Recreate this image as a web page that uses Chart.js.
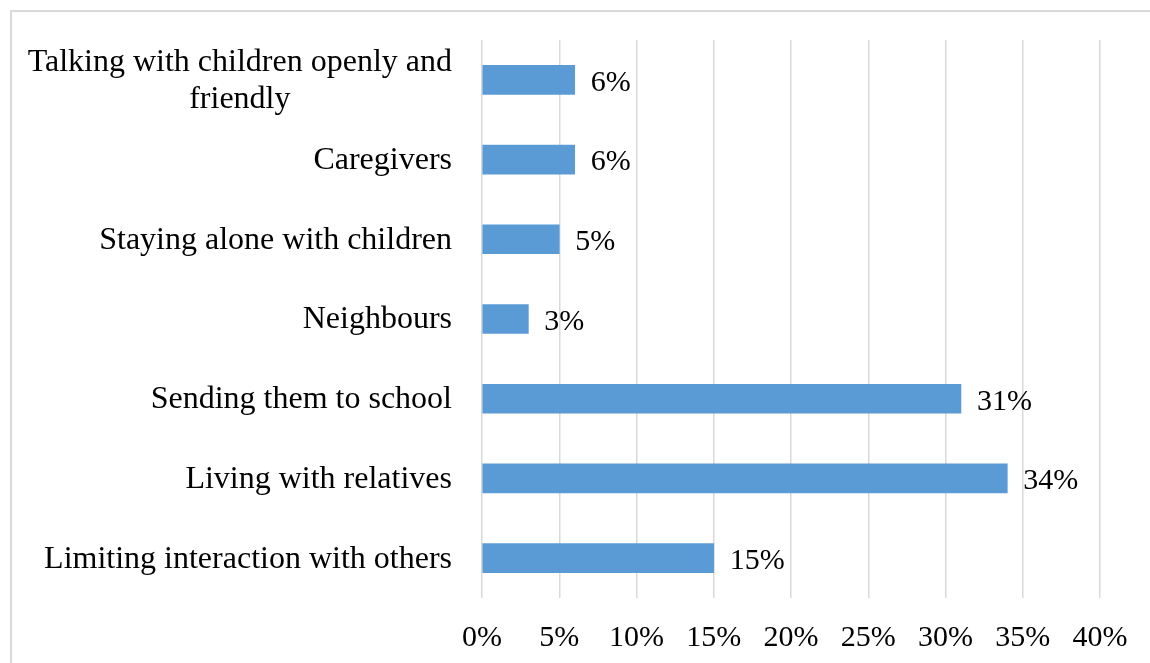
<!DOCTYPE html>
<html>
<head>
<meta charset="utf-8">
<script src="https://cdn.jsdelivr.net/npm/chart.js@4"></script>
<style>
    body { margin: 0; background: #fff; overflow: hidden; }
    #frame {
        position: absolute; left: 10px; top: 10px;
        width: 1200px; height: 700px;
        border: 2px solid #d9d9d9;
    }
    #wrap { position: absolute; left: 0; top: 0; width: 1150px; height: 663px; }
</style>
</head>
<body>
<div id="frame"></div>
<div id="wrap"><canvas id="chart"></canvas></div>
<script>
// categories, top to bottom
const categories = [
    ['Talking with children openly and', 'friendly'],
    ['Caregivers'],
    ['Staying alone with children'],
    ['Neighbours'],
    ['Sending them to school'],
    ['Living with relatives'],
    ['Limiting interaction with others']
]
const values = [6, 6, 5, 3, 31, 34, 15]
const tickValues = [0, 5, 10, 15, 20, 25, 30, 35, 40]

const FONT = '"Liberation Serif", "Times New Roman", serif'

// draws the category names right aligned, multi-line ones centred on their widest line
const categoryLabels = {
    id: 'categoryLabels',
    afterDraw(chart) {
        const ctx = chart.ctx
        const y = chart.scales.y
        ctx.save()
        ctx.font = '32px ' + FONT
        ctx.fillStyle = '#000'
        ctx.textBaseline = 'middle'
        const right = y.right - 30
        categories.forEach((lines, i) => {
            const cy = y.getPixelForTick(i) + 1
            const lh = 37
            const widest = Math.max(...lines.map(l => ctx.measureText(l).width))
            lines.forEach((line, j) => {
                const ly = cy + (j - (lines.length - 1) / 2) * lh
                if (lines.length > 1) {
                    ctx.textAlign = 'center'
                    ctx.fillText(line, right - widest / 2, ly)
                } else {
                    ctx.textAlign = 'right'
                    ctx.fillText(line, right, ly)
                }
            })
        })
        ctx.restore()
    }
}

// value labels after the end of each bar
const valueLabels = {
    id: 'valueLabels',
    afterDatasetsDraw(chart) {
        const ctx = chart.ctx
        const meta = chart.getDatasetMeta(0)
        ctx.save()
        ctx.font = '30px ' + FONT
        ctx.fillStyle = '#000'
        ctx.textAlign = 'left'
        ctx.textBaseline = 'middle'
        meta.data.forEach((bar, i) => {
            ctx.fillText(values[i] + '%', bar.x + 16, bar.y + 3)
        })
        ctx.restore()
    }
}

new Chart(document.getElementById('chart').getContext('2d'), {
    type: 'bar',
    data: {
        labels: categories.map(c => c.join(' ')),
        datasets: [{
            data: values,
            backgroundColor: '#5b9bd5',
            barThickness: 29
        }]
    },
    options: {
        indexAxis: 'y',
        responsive: true,
        maintainAspectRatio: false,
        animation: false,
        layout: { padding: { top: 40, right: 50, left: 0, bottom: 0 } },
        plugins: {
            legend: { display: false },
            tooltip: { enabled: false }
        },
        scales: {
            x: {
                min: 0,
                max: 40,
                afterBuildTicks: (scale) => {
                    scale.ticks = tickValues.map(v => ({ value: v }))
                },
                afterFit: (scale) => { scale.height = 65 },
                grid: { color: '#d9d9d9', lineWidth: 1.5, drawTicks: false },
                border: { display: false },
                ticks: {
                    padding: 22,
                    color: '#000',
                    font: { family: FONT, size: 30 },
                    callback: (v) => v + '%'
                }
            },
            y: {
                afterFit: (scale) => { scale.width = 482 },
                grid: { display: false },
                border: { display: false },
                ticks: { display: false }
            }
        }
    },
    plugins: [categoryLabels, valueLabels]
})
</script>
</body>
</html>
